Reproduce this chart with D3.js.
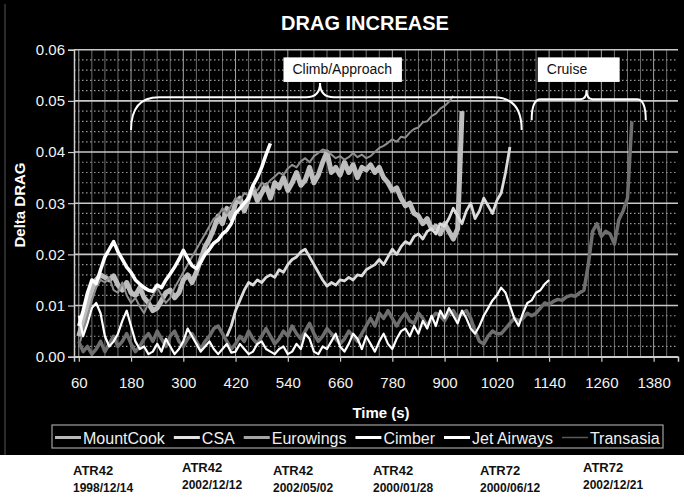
<!DOCTYPE html>
<meta charset="utf-8">
<style>
body { margin: 0; background: #fff; }
svg text { font-family: "Liberation Sans", Arial, sans-serif; }
</style>
<svg width="684" height="500"></svg>
<script src="https://d3js.org/d3.v7.min.js"></script>
<script>

var seriesNames = ["MountCook", "CSA", "Eurowings", "Cimber", "Jet Airways", "Transasia"];
var aircraftTypes = ["ATR42", "ATR42", "ATR42", "ATR42", "ATR72", "ATR72"];
var aircraftDates = ["1998/12/14", "2002/12/12", "2002/05/02", "2000/01/28", "2000/06/12", "2002/12/21"];
var timeTicks = [60, 180, 300, 420, 540, 660, 780, 900, 1020, 1140, 1260, 1380];
var dragTicks = [0, 0.01, 0.02, 0.03, 0.04, 0.05, 0.06];
var step = 10; // seconds between samples

// MountCook, from t = 60
var mountCookStart = 60;
var mountCook = [.004, .007, .010, .013, .015, .016, .0155, .015, .0158, .014,
  .013, .0145, .0125, .012, .0135, .0115, .0105, .009, .0095, .011,
  .0125, .013, .0115, .0125, .015, .016, .0145, .0165, .019, .0215,
  .023, .025, .0275, .026, .029, .027, .030, .031, .0285, .031,
  .033, .0305, .032, .0335, .031, .034, .033, .035, .0325, .034,
  .036, .0335, .0345, .037, .034, .0355, .038, .040, .036, .037,
  .0355, .038, .036, .0375, .035, .037, .0365, .0375, .036, .037,
  .035, .034, .0325, .033, .031, .0295, .030, .028, .0275, .026,
  .027, .025, .0255, .024, .026, .0245, .023, .025, .048];

// CSA, from t = 400
var csaStart = 400;
var csa = [.004, .006, .009, .011, .013, .0145, .014, .015, .0145, .0155,
  .016, .0155, .017, .0165, .018, .019, .0195, .0205, .021, .0195,
  .018, .0165, .015, .0138, .0145, .014, .015, .0148, .0155, .015,
  .016, .0158, .017, .0175, .018, .019, .018, .0195, .021, .020,
  .0215, .0225, .022, .0235, .024, .023, .0245, .025, .024, .026,
  .0255, .027, .029, .0275, .026, .0285, .030, .027, .0285, .031,
  .0295, .028, .0305, .032, .036, .041];

// Eurowings, from t = 60
var eurowingsStart = 60;
var eurowings = [.002, .005, .008, .011, .0135, .015, .0145, .0155, .013, .0125,
  .0145, .012, .0105, .0115, .0098, .0085, .0105, .012, .0135, .012,
  .0105, .0115, .0135, .015, .0165, .018, .0195, .021, .0225, .024,
  .0255, .027, .0275, .029, .028, .0295, .031, .0305, .032, .0315,
  .033, .0325, .034, .0335, .0345, .0352, .036, .0355, .0368, .0375,
  .037, .0382, .0388, .038, .0392, .0398, .0405, .0402, .0395, .0388,
  .0392, .0385, .039, .0398, .039, .0395, .0388, .0392, .040, .0408,
  .0412, .0418, .0425, .042, .043, .0428, .0438, .0445, .0448, .0458,
  .046, .047, .0475, .0485, .049, .0498, .051];

// Cimber, from t = 60
var cimberStart = 60;
var cimber = [.008, .004, .0065, .0095, .0105, .0085, .004, .002, .003, .0045,
  .007, .009, .006, .003, .0015, .002, .0005, .001, .0025, .001,
  .0035, .002, .0005, .0015, .003, .0055, .004, .0025, .001, .002,
  .003, .0015, .0005, .0015, .0025, .0008, .001, .0025, .0015, .0005,
  .001, .0025, .003, .0015, .001, .0005, .0015, .002, .0005, .001,
  .0025, .0015, .0045, .0035, .001, .0005, .002, .0015, .003, .0045,
  .002, .001, .0025, .0045, .0035, .0015, .004, .0025, .001, .003,
  .0045, .0025, .0015, .0035, .005, .0055, .004, .006, .0045, .007,
  .0055, .008, .006, .009, .0075, .0095, .008, .0065, .009, .0075,
  .0055, .0045, .006, .008, .0095, .011, .012, .0135, .0125, .010,
  .0075, .006, .0085, .0105, .011, .0125, .013, .0142, .015];

// Jet Airways, from t = 60
var jetAirwaysStart = 60;
var jetAirways = [.006, .009, .0125, .015, .0143, .017, .0195, .021, .0225, .0205,
  .019, .0175, .0165, .015, .0142, .0135, .013, .0128, .014, .0135,
  .015, .0162, .0175, .019, .0208, .0192, .0178, .0172, .0185, .020,
  .021, .0222, .0228, .024, .0247, .026, .028, .029, .030, .031,
  .0335, .035, .037, .0395, .0417];

// Transasia, from t = 60
var transasiaStart = 60;
var transasia = [.003, .001, .002, .0005, .0015, .003, .001, .0025, .004, .002,
  .003, .0045, .0025, .001, .002, .0035, .0045, .003, .005, .0035,
  .002, .004, .005, .003, .002, .0035, .0045, .003, .0015, .003,
  .004, .0055, .006, .0045, .003, .0015, .0025, .004, .003, .005,
  .0035, .0025, .004, .0055, .004, .0025, .0035, .005, .004, .006,
  .0045, .0035, .005, .0065, .0045, .003, .004, .0055, .0045, .0035,
  .0025, .0035, .005, .004, .003, .0045, .006, .0075, .006, .0085,
  .0075, .009, .0075, .006, .0075, .0085, .007, .0065, .0085, .0075,
  .006, .0075, .0085, .008, .007, .0085, .009, .0075, .0085, .009,
  .0075, .005, .003, .0025, .004, .005, .0045, .0045, .0055, .0065,
  .0075, .007, .0075, .0085, .008, .0085, .0095, .0105, .0102, .0108,
  .0112, .011, .0117, .012, .0118, .0125, .013, .018, .0245, .026,
  .0235, .0245, .024, .022, .0267, .0285, .031, .046];

var svg = d3.select("svg");

// page: black chart panel over a white strip
svg.append("rect").attr("width", 684).attr("height", 500).attr("fill", "#fff");
svg.append("rect").attr("width", 684).attr("height", 455).attr("fill", "#000");
svg.append("line").attr("x1", 5).attr("x2", 5).attr("y1", 4).attr("y2", 455)
    .attr("stroke", "#3a3a3a").attr("stroke-width", 1.5);

var x = d3.scaleLinear().domain([49, 1436]).range([74, 678]);
var y = d3.scaleLinear().domain([0, 0.06]).range([356.7, 49.7]);

svg.append("text")
    .attr("x", 365).attr("y", 30)
    .attr("text-anchor", "middle")
    .attr("fill", "#fff")
    .style("font-size", "20px").style("font-weight", "bold")
    .text("DRAG INCREASE");

// grid
var grid = svg.append("g");
grid.selectAll(".vgrid")
    .data(d3.range(60, 1436, 30))
  .enter().append("line")
    .attr("x1", function(d) { return x(d); })
    .attr("x2", function(d) { return x(d); })
    .attr("y1", y(0.06)).attr("y2", y(0))
    .attr("stroke", function(d) { return (d - 60) % 120 == 0 ? "#b8b8b8" : "#7a7a7a"; })
    .attr("stroke-width", 0.9);
grid.selectAll(".minor")
    .data(d3.range(0.002, 0.06, 0.002).filter(function(d) { return Math.round(d * 1000) % 10 != 0; }))
  .enter().append("line")
    .attr("x1", x.range()[0]).attr("x2", x.range()[1])
    .attr("y1", function(d) { return y(d); })
    .attr("y2", function(d) { return y(d); })
    .attr("stroke", "#9a9a9a")
    .attr("stroke-width", 1.2)
    .attr("stroke-dasharray", "1.5,2.5");
grid.selectAll(".major")
    .data(dragTicks)
  .enter().append("line")
    .attr("x1", x.range()[0]).attr("x2", x.range()[1])
    .attr("y1", function(d) { return y(d); })
    .attr("y2", function(d) { return y(d); })
    .attr("stroke", "#c8c8c8")
    .attr("stroke-width", 1.6);

// axes
var yAxis = svg.append("g")
    .attr("transform", "translate(" + x.range()[0] + ",0)")
    .call(d3.axisLeft(y).tickValues(dragTicks).tickFormat(d3.format(".2f")).tickSize(6).tickPadding(3));
var xAxis = svg.append("g")
    .attr("transform", "translate(0," + y(0) + ")")
    .call(d3.axisBottom(x).tickValues(timeTicks).tickFormat(d3.format("d")).tickSize(5).tickPadding(16));
[yAxis, xAxis].forEach(function(a) {
  a.select(".domain").attr("stroke", "#d0d0d0").attr("stroke-width", 1.5);
  a.selectAll(".tick line").attr("stroke", "#d0d0d0").attr("stroke-width", 1.2);
  a.selectAll(".tick text").attr("fill", "#f2f2f2")
      .style("font-size", "15px").style("font-family", "'Liberation Sans', Arial, sans-serif");
});

svg.append("text")
    .attr("transform", "translate(25,205) rotate(-90)")
    .attr("text-anchor", "middle")
    .attr("fill", "#fff")
    .style("font-size", "15px").style("font-weight", "bold")
    .text("Delta DRAG");

svg.append("text")
    .attr("x", 381).attr("y", 418)
    .attr("text-anchor", "middle")
    .attr("fill", "#fff")
    .style("font-size", "15px").style("font-weight", "bold")
    .text("Time (s)");

// series
var series = [
  {name: "MountCook", start: mountCookStart, values: mountCook, color: "#bdbdbd", width: 5},
  {name: "Eurowings", start: eurowingsStart, values: eurowings, color: "#8e8e8e", width: 2},
  {name: "CSA", start: csaStart, values: csa, color: "#dcdcdc", width: 2.8},
  {name: "Transasia", start: transasiaStart, values: transasia, color: "#6e6e6e", width: 3.5},
  {name: "Cimber", start: cimberStart, values: cimber, color: "#ffffff", width: 2.2},
  {name: "Jet Airways", start: jetAirwaysStart, values: jetAirways, color: "#ffffff", width: 3.5}
];

series.forEach(function(s) {
  var line = d3.line()
      .x(function(d, i) { return x(s.start + i * step); })
      .y(function(d) { return y(d); });
  svg.append("path")
      .datum(s.values)
      .attr("fill", "none")
      .attr("stroke", s.color)
      .attr("stroke-width", s.width)
      .attr("stroke-linejoin", "round")
      .attr("d", line);
});

// phase annotations (braces + labels)
function brace(t0, t1, tPeak, vEnd, vBar, vPeak, r, rp) {
  var xa = x(t0), xb = x(t1), xp = x(tPeak), ya = y(vEnd), yh = y(vBar), yp = y(vPeak);
  return "M" + xa + "," + ya +
    "Q" + xa + "," + yh + " " + (xa + r) + "," + yh +
    "L" + (xp - rp) + "," + yh +
    "Q" + xp + "," + yh + " " + xp + "," + yp +
    "Q" + xp + "," + yh + " " + (xp + rp) + "," + yh +
    "L" + (xb - r) + "," + yh +
    "Q" + xb + "," + yh + " " + xb + "," + ya;
}
svg.append("path")
    .attr("d", brace(180, 1077, 614, 0.0443, 0.0507, 0.0535, 28, 14))
    .attr("fill", "none").attr("stroke", "#fff").attr("stroke-width", 2);
svg.append("path")
    .attr("d", brace(1100, 1362, 1226, 0.0462, 0.0503, 0.0521, 9, 6))
    .attr("fill", "none").attr("stroke", "#fff").attr("stroke-width", 2);

var phases = [
  {label: "Climb/Approach", t0: 530, t1: 802},
  {label: "Cruise", t0: 1114, t1: 1302}
];
phases.forEach(function(p) {
  svg.append("rect")
      .attr("x", x(p.t0)).attr("y", y(0.0585))
      .attr("width", x(p.t1) - x(p.t0)).attr("height", y(0.0537) - y(0.0585))
      .attr("fill", "#fff");
  svg.append("text")
      .attr("x", x(p.t0) + 9).attr("y", y(0.0585) + 17)
      .attr("fill", "#111")
      .style("font-size", "14px")
      .text(p.label);
});

// legend
var legend = svg.append("g");
var legendColors = {"MountCook": "#b8b8b8", "CSA": "#e2e2e2", "Eurowings": "#a4a4a4",
  "Cimber": "#ffffff", "Jet Airways": "#ffffff", "Transasia": "#5a5a5a"};
var legendWidths = {"MountCook": 3, "CSA": 3, "Eurowings": 3, "Cimber": 3, "Jet Airways": 3, "Transasia": 1.5};
legend.append("rect")
    .attr("x", 52).attr("y", 425).attr("width", 611).attr("height", 23)
    .attr("fill", "#000").attr("stroke", "#a0a0a0").attr("stroke-width", 1.2);
var lx = 55;
seriesNames.forEach(function(name) {
  legend.append("line")
      .attr("x1", lx).attr("x2", lx + 26).attr("y1", 437.5).attr("y2", 437.5)
      .attr("stroke", legendColors[name]).attr("stroke-width", legendWidths[name]);
  var t = legend.append("text")
      .attr("x", lx + 28).attr("y", 444)
      .attr("fill", "#f0f0f0")
      .style("font-size", "16px")
      .text(name);
  lx += 28 + t.node().getComputedTextLength() + 9;
});

// aircraft captions under the chart
var captionX = [73, 182, 273, 373, 480, 583];
aircraftTypes.forEach(function(type, i) {
  var dy = (i == 1 || i == 5) ? -3 : 0;
  svg.append("text")
      .attr("x", captionX[i]).attr("y", 475 + dy)
      .attr("fill", "#111")
      .style("font-size", "13px").style("font-weight", "bold")
      .text(type);
  svg.append("text")
      .attr("x", captionX[i]).attr("y", 492 + dy)
      .attr("fill", "#111")
      .style("font-size", "12px").style("font-weight", "bold")
      .text(aircraftDates[i]);
});

</script>
